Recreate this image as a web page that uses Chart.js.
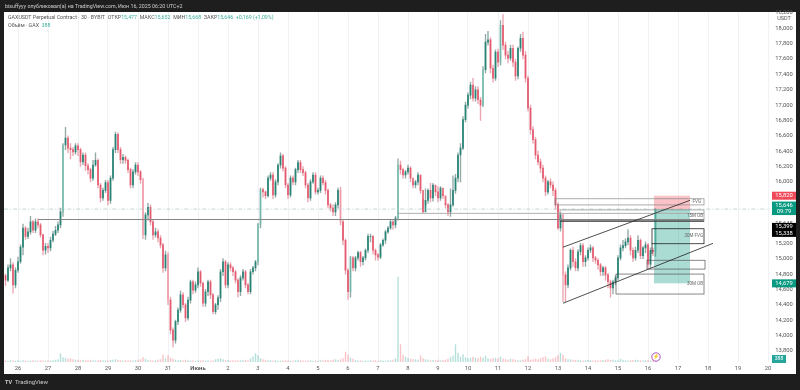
<!DOCTYPE html>
<html><head><meta charset="utf-8">
<style>html,body{margin:0;padding:0;background:#1e1e1e}canvas{display:block}</style>
<script src="https://cdn.jsdelivr.net/npm/chart.js@4"></script></head>
<body><div style="width:800px;height:390px;position:relative"><canvas id="c" width="800" height="390"></canvas></div>
<script>
const firstOpen = 14.78;
const dayLabels = ['26','27','28','29','30','31','Июнь','2','3','4','5','6','7','8','9','10','11','12','13','14','15','16','17','18','19','20'];
const closes = [
14.72,14.88,14.92,14.66,14.85,14.96,15.15,15.40,15.29,15.35,
15.48,15.37,15.48,15.44,15.31,15.11,15.16,15.14,15.24,15.32,
15.37,15.44,15.61,16.48,16.57,16.44,16.42,16.39,16.47,16.42,
16.26,16.35,16.21,16.16,16.05,16.22,16.28,15.96,15.79,15.89,
15.99,15.76,16.05,16.42,16.62,16.42,16.29,16.32,16.28,16.16,
15.96,16.13,16.22,16.13,16.03,15.31,15.57,15.67,15.48,15.31,
15.35,15.27,15.18,14.88,15.05,14.46,14.07,13.94,14.18,14.33,
14.53,14.40,14.23,14.46,14.70,14.59,14.66,14.83,14.68,14.42,
14.57,14.70,14.53,14.31,14.40,14.49,14.83,14.96,14.66,14.92,
14.88,14.83,14.72,14.57,14.75,14.83,14.66,14.57,14.83,14.88,
14.96,15.44,15.90,15.87,15.82,16.05,16.09,15.83,16.00,16.22,
16.34,16.18,15.96,15.83,16.05,16.00,16.16,16.25,16.16,16.12,
15.96,15.79,16.00,16.09,15.87,15.89,16.05,15.99,15.89,15.70,
15.66,15.61,15.70,15.89,15.48,15.24,14.85,14.57,15.01,14.88,
15.01,15.08,14.96,15.01,15.11,15.29,15.29,15.11,15.05,15.02,
15.18,15.24,15.35,15.40,15.48,15.44,15.53,16.22,16.16,16.09,
16.13,16.18,16.05,15.96,16.00,16.09,15.89,15.61,15.76,15.89,
15.79,15.96,15.87,15.79,15.92,15.82,15.70,15.61,15.70,15.89,
16.05,16.35,16.44,16.81,17.00,17.13,17.26,17.09,17.20,17.07,
17.00,17.46,17.82,17.85,17.48,17.35,17.69,17.56,18.04,17.78,
17.65,17.61,17.74,17.56,17.38,17.74,17.87,17.65,17.35,16.96,
16.68,16.55,16.35,16.26,16.18,16.05,15.87,16.00,15.96,15.89,
15.70,15.40,15.57,14.79,14.66,14.88,15.11,14.96,14.88,15.09,
15.17,14.96,15.01,15.11,15.14,15.01,14.98,14.92,14.83,14.88,
14.79,14.70,14.62,14.70,14.75,15.01,15.14,15.17,15.22,15.27,
15.11,15.01,15.11,15.24,15.04,15.14,15.18,14.93,15.11,15.09,
15.646];
const highs = [
14.80,14.92,15.00,14.95,14.88,15.02,15.18,15.45,15.42,15.40,
15.55,15.50,15.52,15.52,15.46,15.32,15.20,15.20,15.28,15.36,
15.42,15.48,15.66,16.50,16.71,16.60,16.50,16.45,16.50,16.50,
16.44,16.38,16.38,16.24,16.18,16.28,16.38,16.30,15.98,15.92,
16.02,16.02,16.08,16.45,16.65,16.64,16.45,16.36,16.34,16.30,
16.18,16.16,16.25,16.25,16.15,16.05,15.60,15.72,15.70,15.50,
15.40,15.38,15.30,15.20,15.10,15.08,14.50,14.10,14.20,14.36,
14.58,14.56,14.42,14.50,14.72,14.72,14.70,14.88,14.85,14.70,
14.60,14.72,14.72,14.55,14.42,14.52,14.86,15.00,14.98,14.95,
14.95,14.90,14.85,14.74,14.78,14.86,14.85,14.68,14.86,14.90,
14.98,15.46,15.92,15.92,15.88,16.08,16.12,16.12,16.03,16.24,
16.38,16.36,16.20,15.98,16.08,16.08,16.18,16.28,16.28,16.20,
16.14,15.98,16.03,16.12,16.12,15.92,16.08,16.08,16.02,15.91,
15.72,15.70,15.73,15.92,15.93,15.50,15.26,14.87,15.03,15.03,
15.03,15.10,15.10,15.03,15.13,15.32,15.32,15.30,15.13,15.07,
15.20,15.26,15.37,15.42,15.50,15.50,15.55,16.30,16.27,16.18,
16.15,16.22,16.20,16.00,16.02,16.12,16.09,15.78,15.91,15.91,
15.98,15.98,15.90,15.94,15.94,15.84,15.72,15.72,15.91,16.08,
16.10,16.38,16.50,16.85,17.04,17.16,17.30,17.35,17.24,17.24,
17.10,17.50,17.92,17.96,17.88,17.52,17.72,17.73,18.10,18.18,
17.82,17.70,17.78,17.78,17.60,17.76,17.92,17.95,17.70,17.38,
17.00,16.72,16.58,16.40,16.30,16.22,16.08,16.02,16.04,16.00,
15.92,15.73,15.60,15.58,14.83,14.92,15.13,15.15,15.00,15.12,
15.20,15.20,15.04,15.14,15.18,15.16,15.03,15.00,14.94,14.90,
14.90,14.81,14.72,14.72,14.78,15.04,15.18,15.24,15.26,15.38,
15.30,15.14,15.15,15.30,15.26,15.16,15.22,15.20,15.14,15.14,
15.652];
const lows = [
14.65,14.70,14.84,14.55,14.62,14.82,14.94,15.05,15.25,15.26,
15.32,15.34,15.34,15.40,15.28,15.05,15.06,15.08,15.10,15.22,
15.30,15.34,15.40,15.55,16.42,16.38,16.30,16.34,16.36,16.34,
16.20,16.22,16.15,16.10,16.00,16.02,16.20,15.92,15.74,15.76,
15.86,15.70,15.72,16.02,16.38,16.38,16.24,16.24,16.24,16.12,
15.92,15.92,16.10,16.08,15.98,15.26,15.25,15.50,15.44,15.25,
15.28,15.22,15.14,14.82,14.84,14.40,14.02,13.85,13.90,14.14,
14.30,14.36,14.18,14.20,14.42,14.54,14.56,14.62,14.64,14.38,
14.38,14.52,14.48,14.28,14.28,14.34,14.44,14.78,14.62,14.62,
14.84,14.78,14.68,14.50,14.52,14.72,14.62,14.54,14.54,14.80,
14.84,14.92,15.40,15.80,15.78,15.80,16.02,15.78,15.80,15.96,
16.18,16.14,15.92,15.78,15.80,15.96,15.96,16.12,16.12,16.08,
15.92,15.74,15.76,15.98,15.84,15.84,15.86,15.96,15.84,15.66,
15.62,15.56,15.56,15.66,15.44,15.18,14.80,14.47,14.50,14.84,
14.84,14.98,14.90,14.92,14.98,15.08,15.22,15.06,14.98,14.98,
15.00,15.16,15.20,15.33,15.38,15.38,15.40,15.50,16.10,16.05,
16.05,16.10,16.00,15.92,15.92,15.96,15.85,15.60,15.70,15.72,
15.74,15.75,15.82,15.74,15.76,15.78,15.66,15.56,15.55,15.68,
15.85,16.00,16.00,16.42,16.78,16.96,17.08,17.05,17.05,17.02,
16.80,16.98,17.42,17.78,17.42,17.30,17.32,17.50,17.52,17.72,
17.60,17.55,17.58,17.50,17.32,17.34,17.70,17.60,17.30,16.92,
16.62,16.50,16.30,16.22,16.12,16.00,15.82,15.84,15.92,15.82,
15.64,15.38,15.36,14.44,14.44,14.62,14.85,14.90,14.84,14.84,
15.05,14.90,14.90,14.98,15.08,14.96,14.94,14.86,14.78,14.78,
14.72,14.62,14.50,14.54,14.66,14.72,14.98,15.10,15.14,15.18,
15.05,14.96,14.98,15.08,15.00,15.00,15.08,14.88,14.88,15.04,
15.03];
const volumes = [
300,200,300,250,200,300,200,300,250,200,
200,300,250,200,300,250,200,300,250,300,
400,500,1700,900,800,600,700,500,400,400,
300,400,300,300,400,300,250,300,350,300,
250,300,350,400,500,350,300,250,300,250,
300,250,300,400,500,900,600,350,300,250,
300,400,500,1400,700,1300,800,600,400,300,
350,300,400,300,250,300,200,300,250,300,
250,300,200,250,500,600,700,500,300,350,
250,300,250,300,300,350,400,300,700,1100,
1700,1300,700,500,400,300,300,250,300,200,
200,250,300,250,200,250,300,400,300,250,
200,250,300,200,250,200,300,300,400,350,
300,400,500,350,500,700,2000,1400,800,600,
300,250,300,200,250,200,300,250,300,200,
300,250,200,300,300,400,700,17000,3500,1400,
1000,800,600,500,500,400,1300,700,500,400,
300,350,300,400,300,350,400,600,900,1200,
3500,1800,1000,1500,900,700,800,1000,800,700,
1000,800,1200,700,600,700,800,700,1000,600,
500,400,600,500,400,300,300,400,500,1100,
400,500,600,500,700,900,1100,600,500,700,
900,1300,1800,1400,700,500,500,400,350,400,
300,250,300,350,300,250,300,250,300,350,
400,500,350,400,300,300,600,400,300,250,
300,350,400,350,300,250,300,350,300,388,
388];
const hiddenTicks = ['15.8','15.6','15.4'];
const lastPrice = 15.646, stopPrice = 15.82, targetPrice = 14.679;
const positionSlots = [259.4, 273.8];
const boxFvg = [219.8, 279.4, 15.78, 15.70];
const box15m = [221.8, 279.4, 15.635, 15.49];
const box30mFvg = [258.6, 279.4, 15.39, 15.195];
const box30mFvgStem = [258.6, 15.195, 15.06];
const boxMid = [256.6, 279.8, 14.98, 14.865];
const box30mOb = [244.2, 279.4, 14.80, 14.54];
const levelLong = [13, 279.4, 15.51];
const levelSecond = [156.6, 279.4, 15.59];
const levelBlack = [221.8, 279.4, 15.49];
const trendUpper = [223, 15.15, 273.8, 15.76];
const trendLower = [223, 14.42, 283, 15.20];

const slotsPerDay = 12, leadSlots = 5;
const slotLabels = new Array(leadSlots + (dayLabels.length - 1) * slotsPerDay + 1).fill('');
dayLabels.forEach((d, i) => { slotLabels[leadSlots + i * slotsPerDay] = d; });
const opens = closes.map((c, i) => i === 0 ? firstOpen : closes[i - 1]);
const isUp = i => closes[i] >= opens[i];
const isImpulse = i => Math.abs(closes[i] - opens[i]) > 0.4;
const UP = 'rgba(20,125,108,0.85)', DOWN = 'rgba(226,70,94,0.8)';
const UP_PALE = 'rgba(90,190,170,0.6)', DOWN_PALE = 'rgba(245,150,165,0.7)';
const WICK_UP = 'rgba(110,140,135,0.75)', WICK_DOWN = 'rgba(225,135,150,0.75)';
const FONT = 'Roboto, "Liberation Sans", sans-serif';
const priceText = v => v.toFixed(3).replace('.', ',');

const overlay = {
  id: 'overlay',
  beforeDraw(chart) {
    const c = chart.ctx;
    c.save();
    c.fillStyle = '#1e1e1e'; c.fillRect(0, 0, 800, 390);
    c.fillStyle = '#ffffff'; c.fillRect(4, 12, 792, 362);
    c.restore();
  },
  afterDraw(chart) {
    const c = chart.ctx, X = chart.scales.x, Y = chart.scales.y;
    const a = chart.chartArea;
    const px = s => X.getPixelForValue(s), py = v => Y.getPixelForValue(v);
    c.save();
    const rect = (b, stroke, lw) => {
      c.strokeStyle = stroke; c.lineWidth = lw;
      c.strokeRect(px(b[0]), py(b[2]), px(b[1]) - px(b[0]), py(b[3]) - py(b[2]));
    };
    const hline = (l, col, lw) => {
      c.strokeStyle = col; c.lineWidth = lw;
      c.beginPath(); c.moveTo(px(l[0]), py(l[2])); c.lineTo(px(l[1]), py(l[2])); c.stroke();
    };
    const seg = t => {
      c.strokeStyle = '#222'; c.lineWidth = 0.8;
      c.beginPath(); c.moveTo(px(t[0]), py(t[1])); c.lineTo(px(t[2]), py(t[3])); c.stroke();
    };
    c.strokeStyle = '#a9c6c1'; c.lineWidth = 0.7; c.setLineDash([4, 2, 1, 2]);
    c.beginPath(); c.moveTo(a.left, py(lastPrice)); c.lineTo(770, py(lastPrice)); c.stroke();
    c.setLineDash([]);
    c.fillStyle = 'rgba(242,54,69,0.30)';
    c.fillRect(px(positionSlots[0]), py(stopPrice), px(positionSlots[1]) - px(positionSlots[0]), py(lastPrice) - py(stopPrice));
    c.fillStyle = 'rgba(8,153,129,0.34)';
    c.fillRect(px(positionSlots[0]), py(lastPrice), px(positionSlots[1]) - px(positionSlots[0]), py(targetPrice) - py(lastPrice));
    hline(levelLong, '#858585', 1);
    hline(levelSecond, '#a8a8a8', 0.9);
    hline(levelBlack, '#111', 1.2);
    rect(boxFvg, '#888', 0.7);
    rect(box15m, '#888', 0.7);
    rect(box30mFvg, '#222', 0.8);
    c.strokeStyle = '#222'; c.lineWidth = 0.8;
    c.beginPath(); c.moveTo(px(box30mFvgStem[0]), py(box30mFvgStem[1])); c.lineTo(px(box30mFvgStem[0]), py(box30mFvgStem[2])); c.stroke();
    rect(boxMid, '#555', 0.7);
    rect(box30mOb, '#555', 0.7);
    seg(trendUpper); seg(trendLower);
    c.font = '4.5px ' + FONT; c.fillStyle = '#666'; c.textBaseline = 'middle'; c.textAlign = 'right';
    c.fillText('FVG', px(boxFvg[1]) - 3, (py(boxFvg[2]) + py(boxFvg[3])) / 2);
    c.fillText('15M OB', px(box15m[1]) - 1, (py(box15m[2]) + py(box15m[3])) / 2);
    c.fillText('30M FVG', px(box30mFvg[1]) - 1, (py(box30mFvg[2]) + py(box30mFvg[3])) / 2);
    c.fillText('30M OB', px(box30mOb[1]) - 1, py(box30mOb[2]) + 10);
    const tag = (v, lines, bg, h) => {
      c.fillStyle = bg; c.fillRect(772, py(v) - h / 2, 24, h);
      c.fillStyle = '#fff'; c.font = '5.8px ' + FONT; c.textAlign = 'center';
      lines.forEach((t, i) => c.fillText(t, 784, py(v) + (i - (lines.length - 1) / 2) * 6.5));
    };
    tag(stopPrice, ['15,820'], '#f04a58', 8);
    tag(lastPrice + 0.01, ['15,646', '09:79'], '#089981', 13.5);
    c.fillStyle = '#555'; c.font = '5.8px ' + FONT; c.textAlign = 'center';
    c.fillText('15,645', 784, py(15.46));
    tag(15.375, ['15,399', '15,338'], '#000000', 14);
    tag(targetPrice, ['14,679'], '#089981', 8);
    c.fillStyle = '#26a69a'; c.fillRect(772, 355, 14, 8);
    c.fillStyle = '#fff'; c.font = '5px ' + FONT; c.fillText('388', 779, 359);
    c.fillStyle = '#555'; c.font = '5.5px ' + FONT; c.fillText('USDT', 784, 19);
    c.strokeStyle = '#9c27b0'; c.lineWidth = 0.8; c.fillStyle = '#fff';
    c.beginPath(); c.arc(656, 357, 4.2, 0, Math.PI * 2); c.fill(); c.stroke();
    c.fillStyle = '#9c27b0'; c.font = '5px ' + FONT; c.fillText('⚡', 656, 357);
    c.textAlign = 'left';
    c.fillStyle = '#cfcfcf'; c.font = '5.3px ' + FONT;
    c.fillText('bisuffyyy опубликовал(а) на TradingView.com, Июн 16, 2025 06:20 UTC+2', 5, 6.5);
    c.fillStyle = '#cfcfcf'; c.font = 'bold 5.5px ' + FONT; c.fillText('TV', 5, 382.5);
    c.font = '6px ' + FONT; c.fillText('TradingView', 15, 382.5);
    const parts = [['GAXUSDT Perpetual Contract · 30 · BYBIT  ', '#555'], ['ОТКР', '#555'], ['15,477  ', '#3fae9f'], ['МАКС', '#555'], ['15,652  ', '#3fae9f'], ['МИН', '#555'], ['15,668  ', '#3fae9f'], ['ЗАКР', '#555'], ['15,646  ', '#3fae9f'], ['+0,169 (+1,09%)', '#3fae9f']];
    let tx = 8; c.font = '5.3px ' + FONT;
    parts.forEach(p => { c.fillStyle = p[1]; c.fillText(p[0], tx, 18); tx += c.measureText(p[0]).width; });
    c.fillStyle = '#555'; c.fillText('Объём · GAX  ', 8, 25.5);
    c.fillStyle = '#3fae9f'; c.fillText('388', 8 + c.measureText('Объём · GAX  ').width, 25.5);
    c.restore();
  }
};

new Chart(document.getElementById('c'), {
  type: 'bar',
  data: {
    labels: slotLabels,
    datasets: [
      { label: 'Объём', yAxisID: 'yVol', grouped: false, order: 3, barThickness: 0.7,
        data: volumes,
        backgroundColor: ctx => isUp(ctx.dataIndex) ? 'rgba(8,153,129,0.3)' : 'rgba(242,54,69,0.3)' },
      { label: 'Wick', yAxisID: 'y', grouped: false, order: 2, barThickness: 0.7,
        data: closes.map((c, i) => [lows[i], highs[i]]),
        backgroundColor: ctx => isUp(ctx.dataIndex) ? WICK_UP : WICK_DOWN },
      { label: 'Body', yAxisID: 'y', grouped: false, order: 1,
        barThickness: 1.1,
        data: closes.map((c, i) => [opens[i], c]),
        backgroundColor: ctx => isImpulse(ctx.dataIndex)
          ? (isUp(ctx.dataIndex) ? UP_PALE : DOWN_PALE)
          : (isUp(ctx.dataIndex) ? UP : DOWN) }
    ]
  },
  options: {
    responsive: false, animation: false, devicePixelRatio: 1,
    layout: { padding: { top: 12, left: 4.25, right: 0, bottom: 16 } },
    plugins: { legend: { display: false }, tooltip: { enabled: false } },
    scales: {
      x: {
        afterFit(s) { s.height = 12; },
        border: { display: false },
        grid: { offset: false, color: ctx => ctx.tick && ctx.tick.label ? '#f0f2f5' : 'transparent', lineWidth: 1, drawTicks: false },
        ticks: {
          autoSkip: false, maxRotation: 0, padding: 3, color: '#555',
          font: ctx => ({ family: FONT, size: 5.8, weight: ctx.tick && ctx.tick.label === 'Июнь' ? 'bold' : 'normal' }),
          callback: (v, i) => slotLabels[i]
        }
      },
      y: {
        position: 'right', min: 13.655, max: 18.212,
        afterFit(s) { s.width = 30.75; },
        border: { display: false }, grid: { display: false, drawTicks: false },
        ticks: {
          stepSize: 0.2, includeBounds: false, padding: 6, color: '#555', font: { family: FONT, size: 5.8 },
          callback: v => hiddenTicks.includes(String(+v.toFixed(1))) ? '' : priceText(v)
        }
      },
      yVol: { display: false, position: 'left', min: 0, max: 70000 }
    }
  },
  plugins: [overlay]
});
</script></body></html>
